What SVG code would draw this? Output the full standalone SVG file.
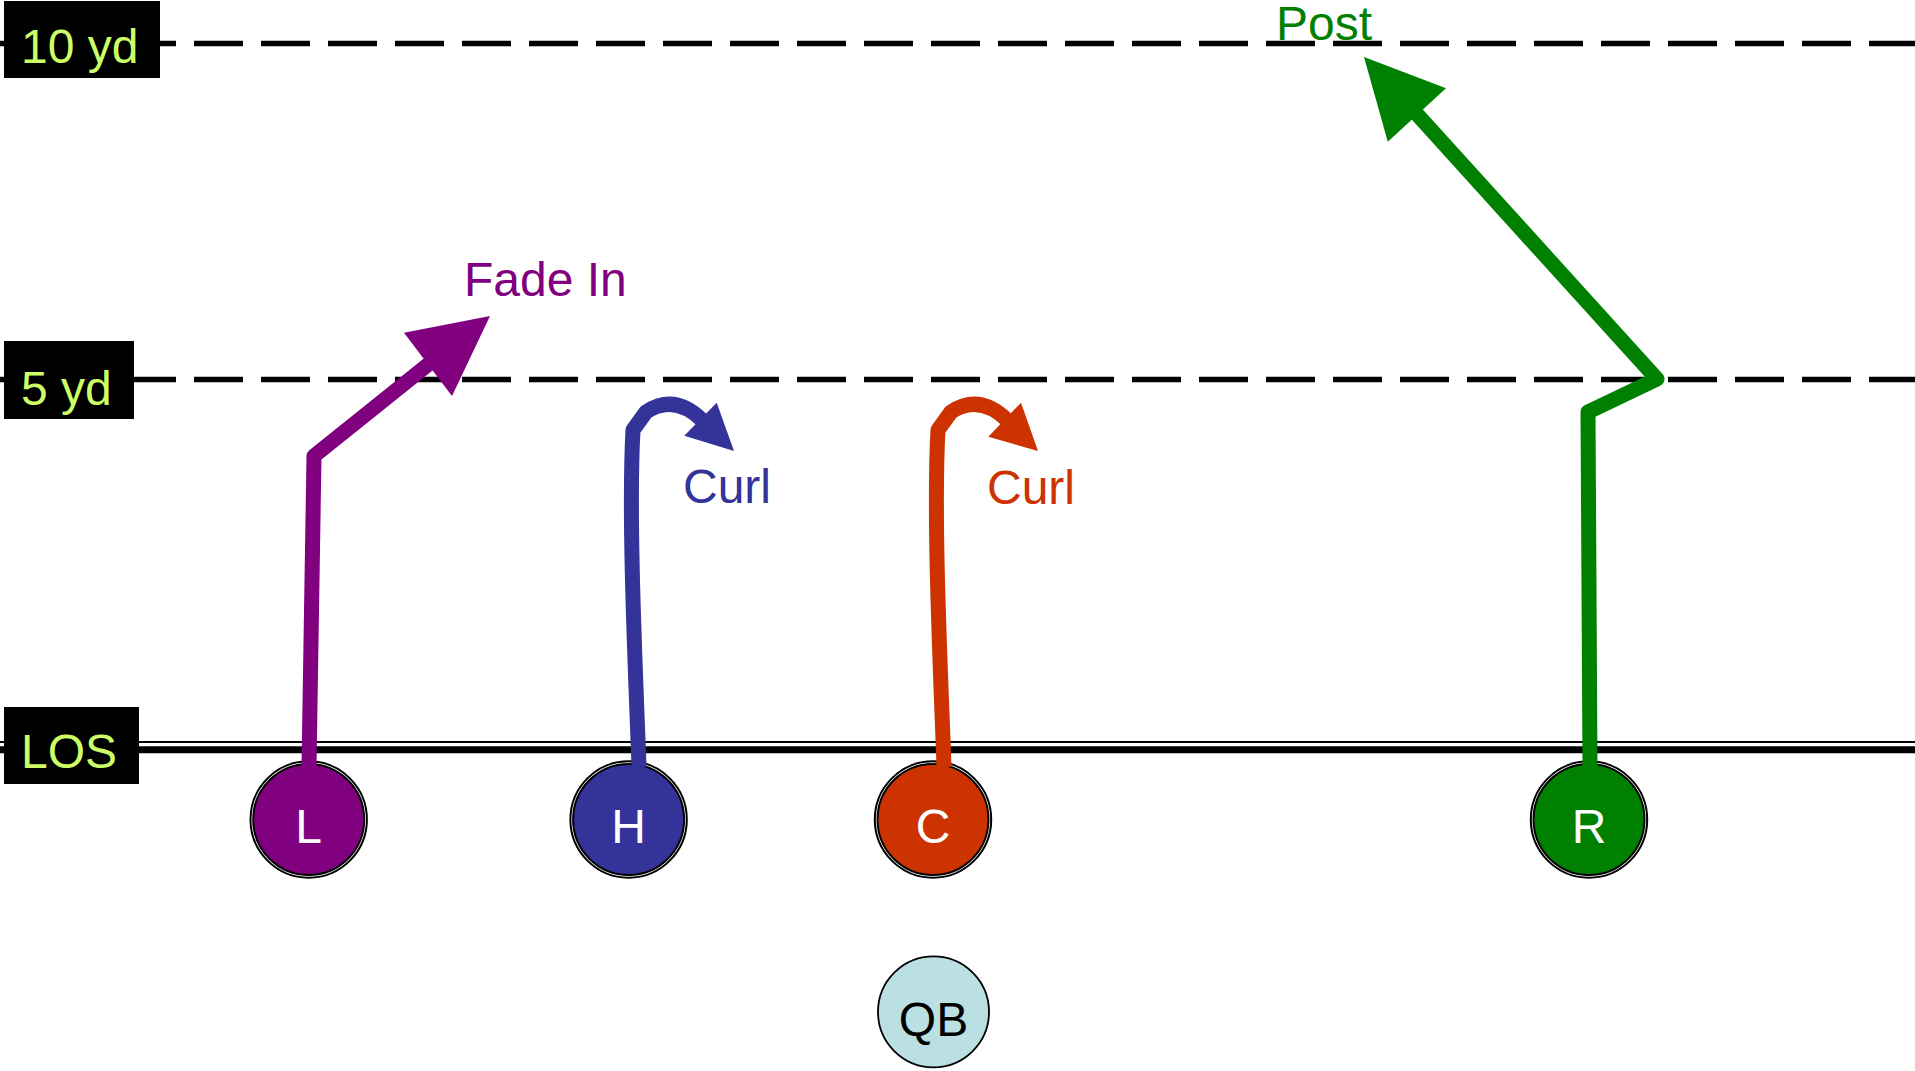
<svg xmlns="http://www.w3.org/2000/svg" width="1915" height="1071" viewBox="0 0 1915 1071">
<style>
  .yard { stroke: #000; stroke-width: 5.5; stroke-dasharray: 49 18; stroke-dashoffset: 7; fill: none; }
  .box { fill: #000; }
  .lbl { font-family: "Liberation Sans", Arial, sans-serif; font-size: 48px; fill: #CCFF66; }
  .rlbl { font-family: "Liberation Sans", Arial, sans-serif; font-size: 48px; }
  .ring { fill: #fff; stroke: #000; stroke-width: 2; }
  .body { stroke: #000; stroke-width: 2; }
  .pl { font-family: "Liberation Sans", Arial, sans-serif; font-size: 48px; fill: #fff; text-anchor: middle; }
  .route { fill: none; stroke-width: 15; stroke-linejoin: round; }
</style>
<rect width="1915" height="1071" fill="#fff"/>
<g id="field">
  <line class="yard" x1="0" y1="43.5" x2="1915" y2="43.5"/>
  <line class="yard" x1="0" y1="379.5" x2="1915" y2="379.5"/>
  <line x1="0" y1="742" x2="1915" y2="742" stroke="#000" stroke-width="2"/>
  <line x1="0" y1="749.8" x2="1915" y2="749.8" stroke="#000" stroke-width="7"/>
</g>
<g id="label-10yd">
  <rect class="box" x="4" y="1" width="156" height="77"/>
  <text class="lbl" x="21" y="63">10 yd</text>
</g>
<g id="label-5yd">
  <rect class="box" x="4" y="341" width="130" height="78"/>
  <text class="lbl" x="21" y="405">5 yd</text>
</g>
<g id="label-los">
  <rect class="box" x="4" y="707" width="135" height="77"/>
  <text class="lbl" x="21" y="768">LOS</text>
</g>
<g id="player-L">
  <circle class="ring" cx="308.7" cy="819.5" r="58.2"/>
  <circle class="body" cx="308.7" cy="819.5" r="55.5" fill="#800080"/>
  <text class="pl" x="308.7" y="843">L</text>
</g>
<g id="player-H">
  <circle class="ring" cx="628.6" cy="819.5" r="58.2"/>
  <circle class="body" cx="628.6" cy="819.5" r="55.5" fill="#333399"/>
  <text class="pl" x="628.6" y="843">H</text>
</g>
<g id="player-C">
  <circle class="ring" cx="933" cy="819.5" r="58.2"/>
  <circle class="body" cx="933" cy="819.5" r="55.5" fill="#CC3300"/>
  <text class="pl" x="933" y="843">C</text>
</g>
<g id="player-R">
  <circle class="ring" cx="1589" cy="819.5" r="58.2"/>
  <circle class="body" cx="1589" cy="819.5" r="55.5" fill="#008000"/>
  <text class="pl" x="1589" y="843">R</text>
</g>
<g id="player-QB">
  <circle cx="933.5" cy="1011.8" r="55.5" fill="#BAE0E3" stroke="#000" stroke-width="1.8"/>
  <text class="pl" x="933.5" y="1036" style="fill:#000">QB</text>
</g>
<g id="connectors">
  <path class="route" stroke="#800080" d="M309 767 L314 456 L430 363"/>
  <polygon fill="#800080" points="490,316 404,332.7 452,396"/>
  <path class="route" stroke="#333399" d="M639 767 C636 680 628 520 633 430 L646 412 Q675 393 703 421"/>
  <polygon fill="#333399" points="734,451 716.7,402.7 684.3,435.7"/>
  <path class="route" stroke="#CC3300" d="M944 767 C941 680 933 520 938 430 L951 412 Q980 393 1008 421"/>
  <polygon fill="#CC3300" points="1038,451 1021,402.7 988.3,436.7"/>
  <path class="route" stroke="#008000" d="M1590 768 L1588 412 L1657 379 L1415 112"/>
  <polygon fill="#008000" points="1364,57 1446,88.3 1387.8,141.7"/>
</g>
<g id="route-labels">
  <text class="rlbl" x="464" y="296" fill="#800080">Fade In</text>
  <text class="rlbl" x="683" y="503" fill="#333399">Curl</text>
  <text class="rlbl" x="987" y="504" fill="#CC3300">Curl</text>
  <text class="rlbl" x="1276" y="40" fill="#008000">Post</text>
</g>
</svg>
